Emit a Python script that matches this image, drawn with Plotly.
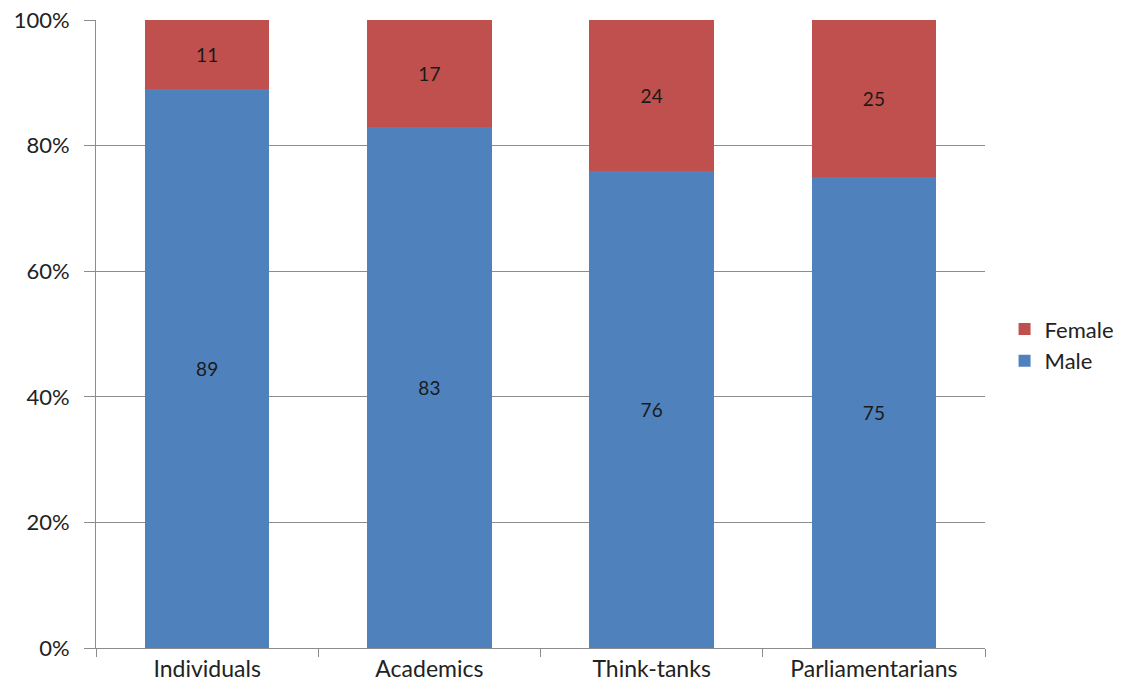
import plotly.graph_objects as go

categories = ["Individuals", "Academics", "Think-tanks", "Parliamentarians"]
male = [89, 83, 76, 75]
female = [11, 17, 24, 25]
y_tick_vals = [0, 20, 40, 60, 80, 100]
y_tick_text = ["0%", "20%", "40%", "60%", "80%", "100%"]

FONT = "Lato, DejaVu Sans"

fig = go.Figure()
fig.add_trace(go.Bar(
    x=categories, y=male, name="Male", marker=dict(color="#4F81BD", line=dict(width=0)),
    text=[str(v) for v in male], textposition="inside", insidetextanchor="middle",
    textfont=dict(color="#1a1a1a", size=19, family=FONT), textangle=0,
))
fig.add_trace(go.Bar(
    x=categories, y=female, name="Female", marker=dict(color="#C0504D", line=dict(width=0)),
    text=[str(v) for v in female], textposition="inside", insidetextanchor="middle",
    textfont=dict(color="#1a1a1a", size=19, family=FONT), textangle=0,
))
fig.update_layout(
    barmode="stack",
    bargap=0.44,
    width=1129, height=693,
    margin=dict(l=96, r=144, t=20, b=45, autoexpand=False),
    paper_bgcolor="white", plot_bgcolor="white",
    font=dict(family=FONT, size=22, color="#222"),
    showlegend=True,
    legend=dict(x=1.022, y=0.482, yanchor="middle", xanchor="left", traceorder="reversed",
                font=dict(size=22, color="#222"), itemwidth=30, tracegroupgap=0),
    uniformtext=dict(minsize=10, mode="show"),
)
fig.update_yaxes(range=[0, 100], tickvals=y_tick_vals, ticktext=y_tick_text,
                 showgrid=True, gridcolor="#8c8c8c", gridwidth=1,
                 showline=True, linecolor="#8c8c8c", linewidth=1, automargin=False,
                 ticks="outside", ticklen=11, tickcolor="#8c8c8c", zeroline=False,
                 ticklabelstandoff=10, ticklabeloverflow="allow")
fig.update_xaxes(showline=True, linecolor="#8c8c8c", linewidth=1, automargin=False,
                 ticks="outside", tickson="boundaries", ticklen=8, tickcolor="#8c8c8c",
                 ticklabeloverflow="allow", tickfont=dict(size=23))
fig.write_html("out.html", config={"displayModeBar": False},
               post_script="document.body.style.margin='0';")
